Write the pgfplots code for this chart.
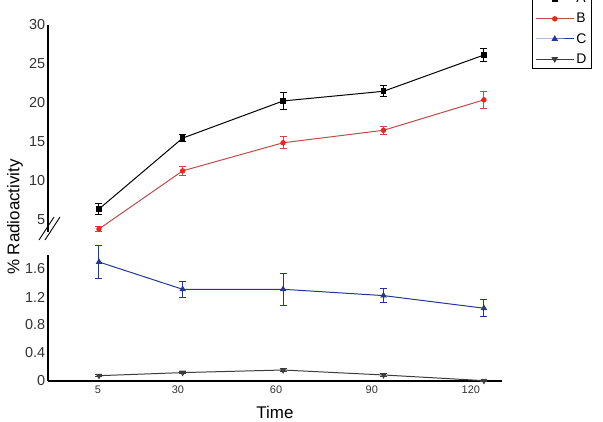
\documentclass[border=0pt]{standalone}
\usepackage{pgfplots}
\pgfplotsset{compat=1.18}
\usepackage{pgfplotstable}
\usepackage{fontspec}
\setmainfont{Liberation Sans}
\definecolor{cA}{RGB}{0,0,0}
\definecolor{cBm}{RGB}{232,40,30}
\definecolor{cBl}{RGB}{196,72,72}
\definecolor{cC}{RGB}{35,55,150}
\definecolor{cD}{RGB}{60,60,60}
\definecolor{tk}{RGB}{51,51,51}

\pgfplotstableread{
x y e
5 6.41 0.65
30 15.5 0.5
60 20.26 1.1
90 21.5 0.7
120 26.15 0.8
}\tA
\pgfplotstableread{
x y e
5 3.85 0.35
30 11.3 0.55
60 14.9 0.75
90 16.5 0.5
120 20.4 1.1
}\tB
\pgfplotstableread{
x y e
5 1.70 0.23
30 1.31 0.11
60 1.31 0.23
90 1.22 0.10
120 1.04 0.12
}\tC
\pgfplotstableread{
x y e
5 0.076 0.012
30 0.12 0.015
60 0.157 0.02
90 0.086 0.015
120 0.005 0.005
}\tD

\begin{document}
\begin{tikzpicture}
\pgfplotsset{
  common/.style={
    width=454bp, scale only axis, xmin=-10.23, xmax=125.4, clip=false,
    tick style={draw=none},
    /pgf/number format/assume math mode=true,
    yticklabel style={font=\fontsize{14.5}{16}\selectfont, text=tk, inner sep=0.5bp},
    every axis plot/.append style={line width=1pt,
      error bars/y dir=both, error bars/y explicit,
      error bars/error bar style={line width=1pt},
      error bars/error mark options={rotate=90, mark size=3.5bp, line width=1pt}},
  },
  noarrows/.style={
    axis line style={-, line width=1.3pt},
    every outer x axis line/.append style={-},
    every outer y axis line/.append style={-},
    every inner x axis line/.append style={-},
    every inner y axis line/.append style={-},
  }
}
% upper panel
\begin{axis}[common,
  at={(0bp,148.5bp)}, anchor=south west,
  height=207.5bp, ymin=3.4, ymax=30,
  axis x line=none, axis y line=left, noarrows,
  ytick={5,10,15,20,25,30},
  legend style={at={(1.066,0.788)}, anchor=south west, draw=black, line width=0.6pt,
    font=\fontsize{14}{16}\selectfont, row sep=5bp, inner xsep=3bp, inner ysep=2bp},
  legend cell align=left,
  legend image code/.code={\draw[mark repeat=2, mark phase=2, #1] plot coordinates {(0bp,0bp) (19bp,0bp) (38bp,0bp)};},
]
\addplot[cA, mark=square*, mark size=2.3bp, mark options={fill=cA}] table[x=x, y=y, y error=e] {\tA};
\addlegendentry{A}
\addplot[cBl, mark=*, mark size=2.2bp, mark options={draw=cBm, fill=cBm},
  error bars/error bar style={cBl, line width=1pt}] table[x=x, y=y, y error=e] {\tB};
\addlegendentry{B}
\addlegendimage{cC, line width=1pt, mark=triangle*, mark size=2.8bp, mark options={fill=cC}}
\addlegendentry{C}
\addlegendimage{cD, line width=1pt, mark=triangle*, mark size=2.8bp, mark options={fill=cD, rotate=180}}
\addlegendentry{D}
\end{axis}
% lower panel
\begin{axis}[common,
  at={(0bp,0bp)}, anchor=south west,
  height=126bp, ymin=0, ymax=1.8,
  axis x line=bottom, axis y line=left, noarrows,
  xtick={4.7,28.6,57.9,86.5,116.1}, xticklabels={5,30,60,90,120},
  xticklabel style={font=\fontsize{11}{12}\selectfont, text=tk, inner sep=1bp, yshift=-2bp},
  ytick={0,0.4,0.8,1.2,1.6}, yticklabels={0,0.4,0.8,1.2,1.6},
  xlabel={Time},
  xlabel style={at={(axis description cs:0.5,0)}, anchor=center, yshift=-31bp,
    font=\fontsize{17}{19}\selectfont},
]
\addplot[cC, mark=triangle*, mark size=2.8bp, mark options={fill=cC}] table[x=x, y=y, y error=e] {\tC};
\addplot[cD, mark=triangle*, mark size=2.8bp, mark options={fill=cD, rotate=180}] table[x=x, y=y, y error=e] {\tD};
\end{axis}
% axis break marks
\draw[line width=0.9pt] (-9bp,141bp) -- (6bp,164bp);
\draw[line width=0.9pt] (-3bp,141bp) -- (12bp,164bp);
\node[rotate=90, font=\fontsize{17}{19}\selectfont] at (-33bp,164bp) {\% Radioactivity};
\pgfresetboundingbox
\useasboundingbox (-48bp,-41bp) rectangle (555bp,381bp);
\end{tikzpicture}
\end{document}
